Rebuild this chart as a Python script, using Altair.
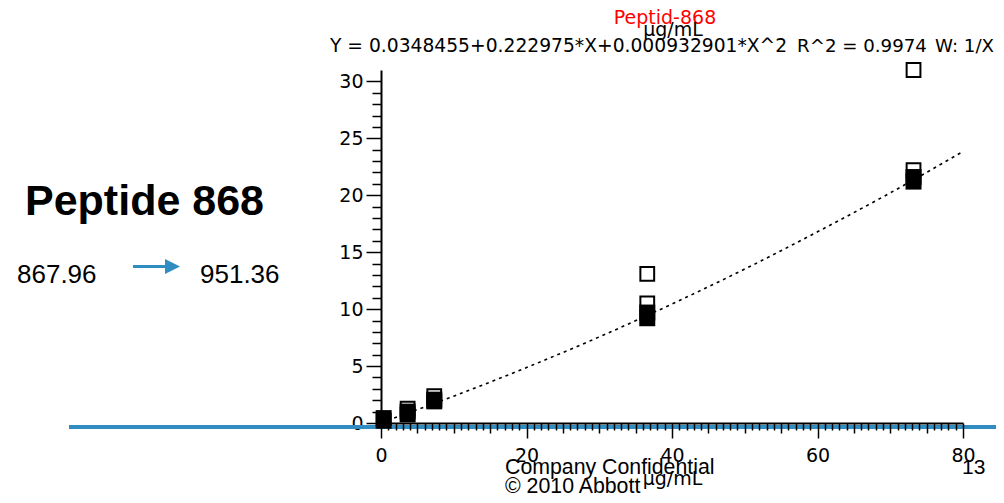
import altair as alt
import pandas as pd

# ---- data ----
conc = [0.366, 3.66, 7.32, 36.6, 73.2]
resp_rep1 = [0.43, 1.0, 2.05, 9.7, 21.6]
resp_rep2 = [0.2, 0.75, 1.9, 9.2, 21.2]
open_conc = [3.66, 7.32, 36.6, 36.6, 73.2, 73.2]
open_resp = [1.25, 2.35, 13.1, 10.5, 31.0, 22.2]
fit_conc = [0, 10, 20, 30, 40, 50, 60, 70, 80]
fit_resp = [0.03, 2.36, 4.87, 7.56, 10.45, 13.52, 16.79, 20.21, 23.84]

x_major = [0, 20, 40, 60, 80]
x_mid = [5, 10, 15, 25, 30, 35, 45, 50, 55, 65, 70, 75]
x_minor = [v for v in range(1, 80) if v % 5]
y_major = [0, 5, 10, 15, 20, 25, 30]
y_minor = [v for v in range(1, 31) if v % 5]

title_text = "Peptid-868"
unit_text = "µg/mL"
eq_text = "Y = 0.0348455+0.222975*X+0.000932901*X^2"
r2_text = "R^2 = 0.9974"
w_text = "W: 1/X"
slide_title = "Peptide 868"
mz_from = "867.96"
mz_to = "951.36"
footer1 = "Company Confidential"
footer2 = "© 2010 Abbott"
page_no = "13"

filled_df = pd.DataFrame({"conc": conc + conc, "resp": resp_rep1 + resp_rep2})
open_df = pd.DataFrame({"conc": open_conc, "resp": open_resp})
fit_df = pd.DataFrame({"conc": fit_conc, "resp": fit_resp})
one = pd.DataFrame({"k": [0]})

# ---- layout ----
X0, Y0 = 381, 70          # page position of the plot origin (top-left of view)
W, H = 582, 353
BLUE = "#2F8DC1"
CF = "DejaVu Sans"
SF = "Liberation Sans"

xs = alt.Scale(domain=[0, 80], nice=False, zero=False)
ys = alt.Scale(domain=[0, 31], nice=False, zero=False)

fit_layer = alt.Chart(fit_df).mark_line(
    color="black", strokeWidth=1.6, strokeDash=[3, 4], interpolate="monotone"
).encode(
    x=alt.X("conc:Q", scale=xs, axis=alt.Axis(orient="bottom", values=x_minor, tickSize=7,
                                             labels=False, domain=False, title=None, zindex=1)),
    y=alt.Y("resp:Q", scale=ys, axis=alt.Axis(orient="left", values=y_minor, tickSize=9,
                                             labels=False, domain=False, title=None)),
)

open_layer = alt.Chart(open_df).mark_point(
    shape="square", filled=False, size=190, strokeWidth=2, color="black", opacity=1
).encode(
    x=alt.X("conc:Q", scale=xs, axis=alt.Axis(orient="bottom", values=x_mid, tickSize=10,
                                             labels=False, domain=False, title=None, zindex=1)),
    y=alt.Y("resp:Q", scale=ys, axis=None),
)

filled_layer = alt.Chart(filled_df).mark_point(
    shape="square", filled=True, size=256, color="black", opacity=1, strokeWidth=0
).encode(
    x=alt.X("conc:Q", scale=xs, axis=alt.Axis(
        orient="bottom", values=x_major, tickSize=15, labelPadding=8, labelFlush=False,
        labelOverlap=False, title=unit_text, titleFont=CF, titleFontSize=19,
        titleFontWeight="normal", titleColor="black", titleBaseline="alphabetic",
        titleY=61, zindex=1)),
    y=alt.Y("resp:Q", scale=ys, axis=alt.Axis(
        orient="left", values=y_major, tickSize=15, labelPadding=3, labelFlush=False,
        labelOverlap=False, title=None)),
)


def txt(s, x, y, size, font=CF, color="black", weight="normal", align="left"):
    return alt.Chart(one).mark_text(
        text=s, font=font, fontSize=size, color=color, fontWeight=weight,
        align=align, baseline="alphabetic"
    ).encode(x=alt.value(x - X0), y=alt.value(y - Y0))


blue_line = alt.Chart(one).mark_rule(color=BLUE, strokeWidth=4).encode(
    x=alt.value(69 - X0), x2=alt.value(1010 - X0), y=alt.value(427 - Y0))
arrow_shaft = alt.Chart(one).mark_rule(color=BLUE, strokeWidth=3).encode(
    x=alt.value(133 - X0), x2=alt.value(166 - X0), y=alt.value(266.5 - Y0))
arrow_head = alt.Chart(one).mark_point(
    shape="M-1,-1L1,0L-1,1Z", filled=True, size=225, color=BLUE, opacity=1, strokeWidth=0
).encode(x=alt.value(172.5 - X0), y=alt.value(266.5 - Y0))

texts = [
    txt(title_text, 665, 24, 19, color="#FF0000", align="center"),
    txt(unit_text, 673, 36, 19, align="center"),
    txt(eq_text, 330, 52, 18.7),
    txt(r2_text, 797, 52, 18.2),
    txt(w_text, 935, 52, 18.2),
    txt(slide_title, 25, 215, 43, font=SF, weight="bold"),
    txt(mz_from, 17, 283, 26, font=SF),
    txt(mz_to, 200, 283, 26, font=SF),
    txt(footer1, 505, 474, 21.3, font=SF),
    txt(footer2, 505, 493, 21.3, font=SF),
    txt(page_no, 962, 474, 21, font=SF),
]

chart = alt.layer(
    blue_line, fit_layer, open_layer, filled_layer, arrow_shaft, arrow_head, *texts
).resolve_axis(
    x="independent", y="independent"
).properties(
    width=W, height=H,
    autosize=alt.AutoSizeParams(type="none"),
    padding={"left": X0 - 8, "top": Y0 - 8, "right": 988 - (X0 - 8) - W, "bottom": 487 - (Y0 - 8) - H},
    background="white",
).configure_view(stroke=None).configure_axis(
    grid=False, domainColor="black", domainWidth=2, tickColor="black", tickWidth=1.5,
    labelColor="black", labelFont=CF, labelFontSize=19,
)

chart.save("out.html", embed_options={"renderer": "svg", "actions": False})
